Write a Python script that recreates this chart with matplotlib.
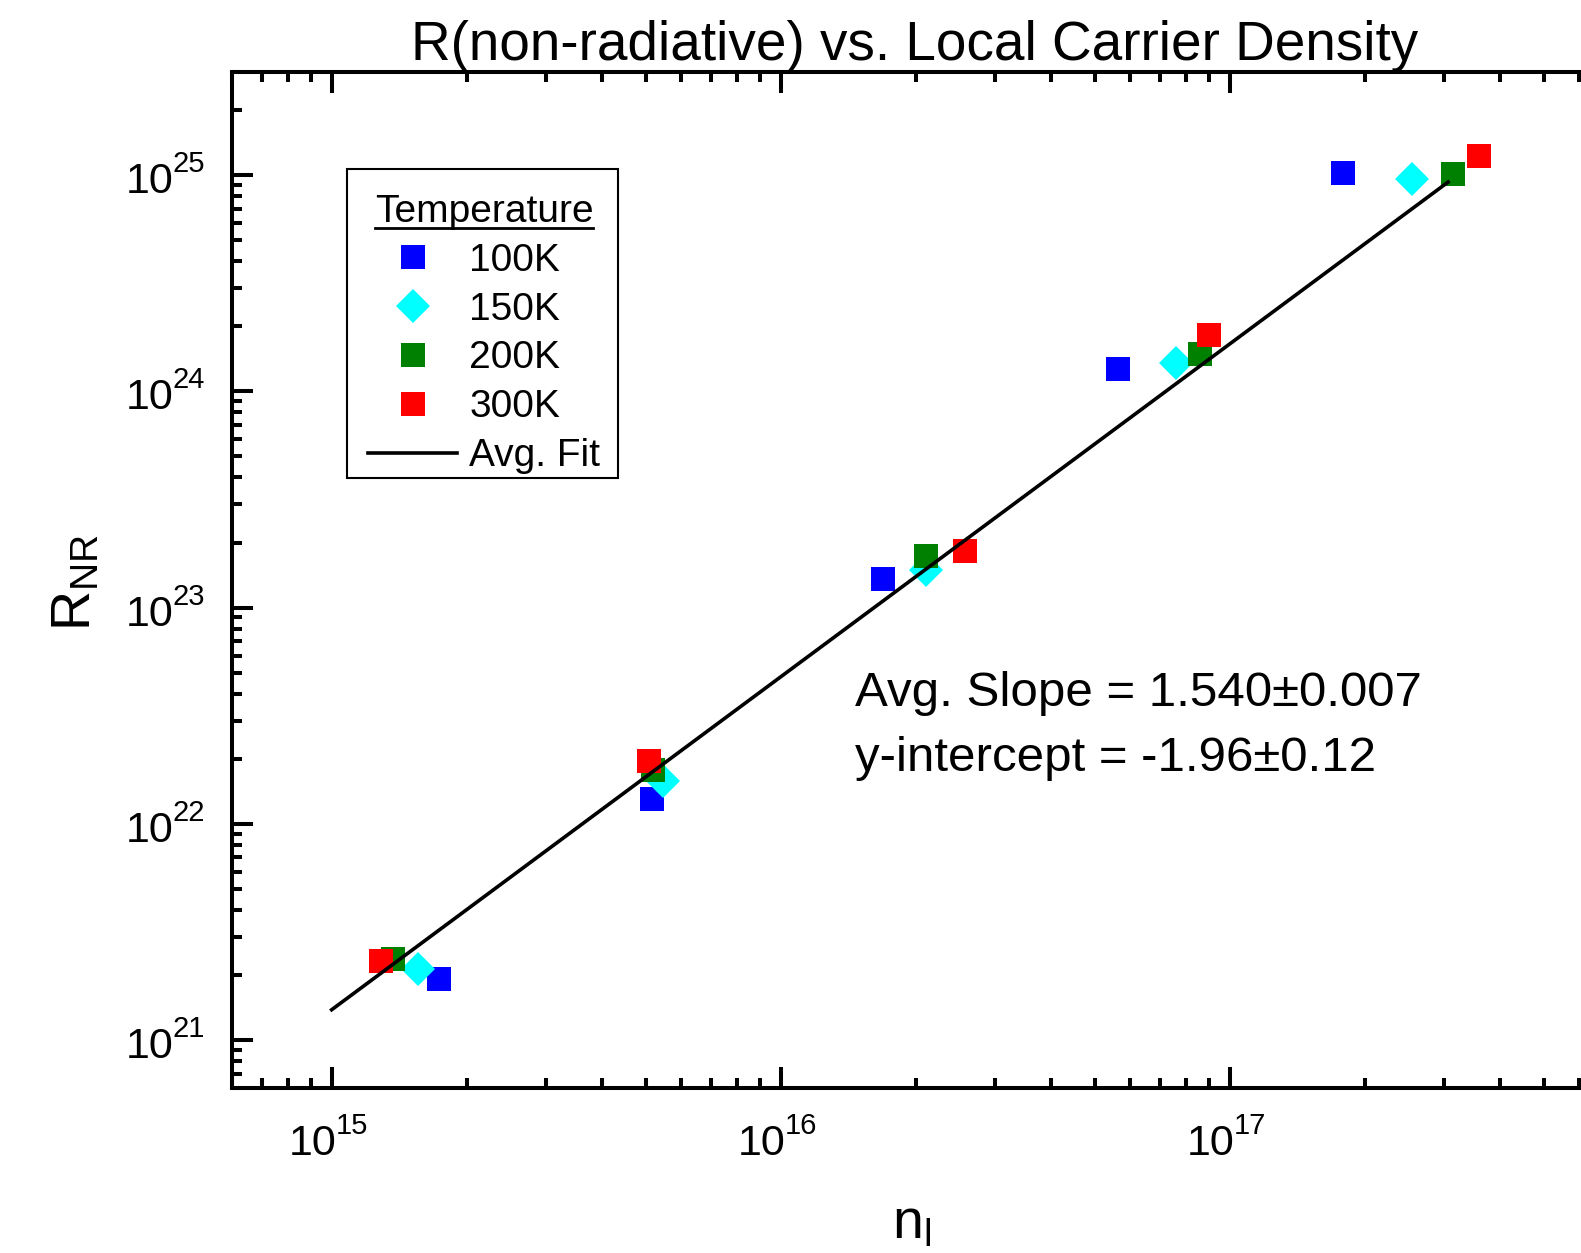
import numpy as np
import matplotlib
matplotlib.use("Agg")
import matplotlib.pyplot as plt
from matplotlib.lines import Line2D
from matplotlib.patches import Rectangle
from matplotlib.transforms import offset_copy

# ========== [DATA] ==========
# local carrier density n_l and non-radiative rate R_NR for each temperature
n_100K = [1.73e15, 5.17e15, 1.69e16, 5.64e16, 1.79e17]
r_100K = [1.92e21, 1.30e22, 1.36e23, 1.27e24, 1.02e25]

n_150K = [1.56e15, 5.48e15, 2.11e16, 7.59e16, 2.54e17]
r_150K = [2.14e21, 1.58e22, 1.50e23, 1.36e24, 9.6e24]

n_200K = [1.37e15, 5.20e15, 2.11e16, 8.57e16, 3.14e17]
r_200K = [2.38e21, 1.77e22, 1.74e23, 1.49e24, 1.01e25]

n_300K = [1.29e15, 5.08e15, 2.57e16, 8.97e16, 3.59e17]
r_300K = [2.33e21, 1.95e22, 1.82e23, 1.82e24, 1.22e25]

# average fit: log10(R) = slope * log10(n) + intercept
fit_slope = 1.540
fit_intercept = -1.96
fit_n_range = [1.0e15, 3.06e17]

# decades that get a "10^x" label
x_decades = [15, 16, 17]
y_decades = [21, 22, 23, 24, 25]

# ========== [STYLE] ==========
plt.rcParams['font.family'] = ['Liberation Sans', 'DejaVu Sans']
plt.rcParams['mathtext.fontset'] = 'custom'
plt.rcParams['mathtext.rm'] = 'Liberation Sans'
plt.rcParams['mathtext.it'] = 'Liberation Sans:italic'

W, H = 1581, 1253
fig = plt.figure(figsize=(W / 100, H / 100), dpi=100)

# axes extends a little past the right edge, like the cropped original
ax_left, ax_right, ax_top, ax_bottom = 232, 1598, 72, 1088
ax = fig.add_axes([ax_left / W, 1 - ax_bottom / H,
                   (ax_right - ax_left) / W, (ax_bottom - ax_top) / H])
ax.set_xscale('log')
ax.set_yscale('log')
ax.set_xlim(6e14, 6.6e17)
ax.set_ylim(6e20, 3e25)

# ========== [PLOT] ==========
ms = 17.5
ax.plot(n_100K, r_100K, 's', color=(0, 0, 1), ms=ms, mew=0, label='100K', zorder=3)
ax.plot(n_150K, r_150K, 'D', color=(0, 1, 1), ms=ms, mew=0, label='150K', zorder=3)
ax.plot(n_200K, r_200K, 's', color=(0, 0.5, 0), ms=ms, mew=0, label='200K', zorder=3)
ax.plot(n_300K, r_300K, 's', color=(1, 0, 0), ms=ms, mew=0, label='300K', zorder=3)

fit_n = np.array(fit_n_range)
fit_r = 10 ** (fit_slope * np.log10(fit_n) + fit_intercept)
ax.plot(fit_n, fit_r, '-', color='black', lw=2.6, label='Avg. Fit', zorder=4)

# ========== [AXES DECORATION] ==========
for sp in ax.spines.values():
    sp.set_linewidth(2.9)
ax.tick_params(which='both', direction='in', top=True, right=False, width=2.9,
               labelbottom=False, labelleft=False)
ax.tick_params(which='major', length=15)
ax.tick_params(which='minor', length=7.5)

# tick labels "10" with a small exponent, Origin style
xt = ax.get_xaxis_transform()
for e in x_decades:
    v = 10.0 ** e
    ax.text(v, 0, '10', transform=offset_copy(xt, fig, x=5, y=-67, units='dots'),
            ha='right', va='baseline', fontsize=31, clip_on=False)
    ax.text(v, 0, str(e), transform=offset_copy(xt, fig, x=4, y=-46, units='dots'),
            ha='left', va='baseline', fontsize=21, clip_on=False)

yt = ax.get_yaxis_transform()
for e in y_decades:
    v = 10.0 ** e
    ax.text(0, v, '10', transform=offset_copy(yt, fig, x=-58, y=-18, units='dots'),
            ha='right', va='baseline', fontsize=31, clip_on=False)
    ax.text(0, v, str(e), transform=offset_copy(yt, fig, x=-59, y=3, units='dots'),
            ha='left', va='baseline', fontsize=21, clip_on=False)

ax.set_title('R(non-radiative) vs. Local Carrier Density', fontsize=39.5, pad=3)
fig.text(912 / W, 1 - 1238 / H, r'n$_\mathregular{l}$', fontsize=40,
         ha='center', va='baseline')
fig.text(76 / W, 1 - 583 / H, r'R$_\mathregular{NR}$', fontsize=40,
         rotation=90, ha='center', va='center')

# legend without its own frame, the box is drawn separately
leg = ax.legend(loc='upper left', bbox_to_anchor=(368 / W, 1 - 194 / H),
                bbox_transform=fig.transFigure, borderaxespad=0,
                fontsize=28, title='Temperature', title_fontsize=28,
                frameon=False, handlelength=2.3, handletextpad=0.3,
                labelspacing=0.33, borderpad=0, numpoints=1)
fig.add_artist(Rectangle((347 / W, 1 - 478 / H), (618 - 347) / W, (478 - 169) / H,
                         transform=fig.transFigure, fill=False,
                         edgecolor='black', lw=1.5))

fig.text(855 / W, 1 - 706 / H, 'Avg. Slope = 1.540\u00b10.007', fontsize=35.5,
         ha='left', va='baseline')
fig.text(855 / W, 1 - 771 / H, 'y-intercept = -1.96\u00b10.12', fontsize=35.5,
         ha='left', va='baseline')

# underline for the legend title
fig.canvas.draw()
tb = leg.get_title().get_window_extent()
uy = tb.y0 + 2
fig.add_artist(Line2D([tb.x0 / W, tb.x1 / W], [uy / H, uy / H],
                      transform=fig.transFigure, color='black', lw=2))

fig.savefig('out.png', dpi=100)
